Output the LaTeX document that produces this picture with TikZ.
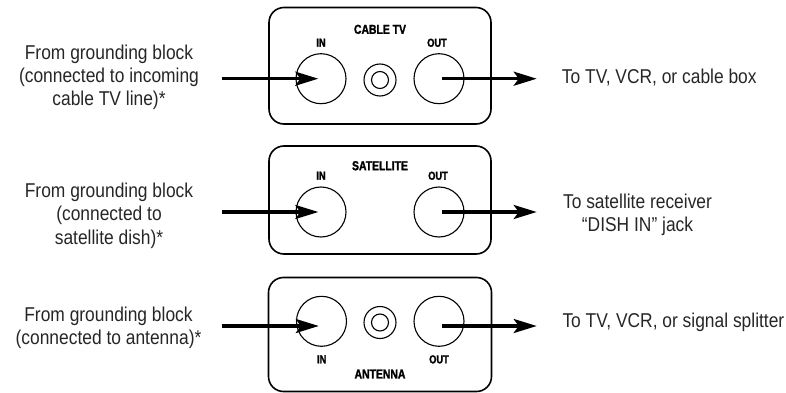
\documentclass[tikz,border=0pt]{standalone}
\usepackage{fontspec}
\setmainfont{Liberation Sans}[FakeStretch=0.87]
\newfontfamily\platefont{Liberation Sans}[FakeStretch=0.8, FakeBold=1.6]
\usetikzlibrary{arrows.meta}

\begin{document}
\begin{tikzpicture}[x=1pt, y=-1pt]
            \useasboundingbox (0,0) rectangle (786,393);

            % wall plates
            \begin{scope}[every node/.style={draw, line width=1.6pt, rounded corners=15pt, inner sep=0pt}]
                \node[minimum width=222pt, minimum height=116.5pt] (plateA) at (380,65.75) {};
                \node[minimum width=222pt, minimum height=108pt] (plateB) at (380,200) {};
                \node[minimum width=223pt, minimum height=114pt] (plateC) at (380,334.5) {};
            \end{scope}

            % ports
            \begin{scope}[every node/.style={circle, draw, line width=1.1pt, inner sep=0pt, minimum size=50pt}]
                \node (cinA) at (321,78.7) {};
                \node (coutA) at (439,78.7) {};
                \node (cinB) at (321,212) {};
                \node (coutB) at (439,212) {};
                \node (cinC) at (321.5,321.3) {};
                \node (coutC) at (439,321.3) {};
            \end{scope}

            % ground jacks
            \begin{scope}[every node/.style={circle, draw, line width=1.1pt, inner sep=0pt}]
                \node[minimum size=32pt] (jackA) at (380,80) {};
                \node[minimum size=17pt] (jackAi) at (380,80) {};
                \node[minimum size=32pt] (jackC) at (380,322.5) {};
                \node[minimum size=17pt] (jackCi) at (380,322.5) {};
            \end{scope}

            % plate labels
            \begin{scope}[every node/.style={inner sep=0pt, text depth=0pt, font=\platefont\bfseries\fontsize{11.6}{12}\selectfont}]
                \node[font=\platefont\bfseries\fontsize{13}{14}\selectfont] (nameA) at (380,29.3) {CABLE TV};
                \node (lblinA) at (321,42.7) {IN};
                \node (lbloutA) at (437,42.7) {OUT};
                \node[font=\platefont\bfseries\fontsize{13}{14}\selectfont] (nameB) at (380,165.7) {SATELLITE};
                \node (lblinB) at (321,175.7) {IN};
                \node (lbloutB) at (438,175.7) {OUT};
                \node (lblinC) at (321.7,359.3) {IN};
                \node (lbloutC) at (439,359.3) {OUT};
                \node[font=\platefont\bfseries\fontsize{13}{14}\selectfont] (nameC) at (380,374) {ANTENNA};
            \end{scope}

            % notes
            \begin{scope}[every node/.style={inner sep=0pt, align=center, text=black!85, font=\fontsize{20}{23.3}\selectfont}]
                \node (srcA) at (109,77.5) {From grounding block\\(connected to incoming\\cable TV line)*};
                \node (srcB) at (109,215.8) {From grounding block\\(connected to\\satellite dish)*};
                \node (srcC) at (108.5,328) {From grounding block\\(connected to antenna)*};
                \node[anchor=base west] (dstA) at (561.7,83.3) {To TV, VCR, or cable box};
                \node (dstB) at (637.5,214.8) {To satellite receiver\\``DISH IN'' jack};
                \node[anchor=base west] (dstC) at (562.3,327.3) {To TV, VCR, or signal splitter};
            \end{scope}

            \coordinate (inA) at (221.7,78.7);
            \coordinate (inB) at (221.7,212);
            \coordinate (inC) at (221.7,326);
            \coordinate (outA) at (536.7,78.7);
            \coordinate (outB) at (536.7,212);
            \coordinate (outC) at (536.7,326);

            % signal lines
            \begin{scope}[every edge/.style={draw=black, line width=3.3pt, -{Stealth[length=23pt, width=14pt, inset=5pt]}}]
                \path (inA) edge[shorten >=2.7pt] (cinA.center);
                \path (inB) edge[shorten >=2.7pt] (cinB.center);
                \path (inC) edge[shorten >=2.7pt] (inC -| cinC);
                \path (coutA.center) edge[shorten <=3.3pt] (outA);
                \path (coutB.center) edge[shorten <=3.3pt] (outB);
                \path (outC -| coutC) edge[shorten <=3.3pt] (outC);
            \end{scope}
        \end{tikzpicture}
\end{document}
